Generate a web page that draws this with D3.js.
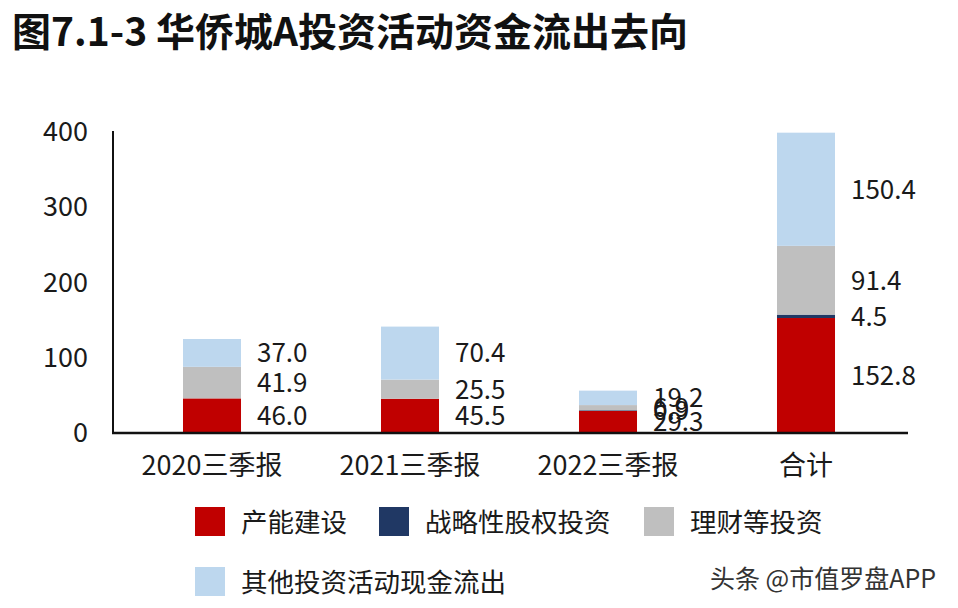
<!DOCTYPE html>
<html><head><meta charset="utf-8">
<script src="https://cdn.jsdelivr.net/npm/d3@7/dist/d3.min.js"></script>
<style>body{margin:0;background:#fff;}svg{display:block;}</style>
</head><body>
<svg id="c" width="958" height="608"></svg>
<script>
const categories = ["2020三季报", "2021三季报", "2022三季报", "合计"];
const seriesNames = ["产能建设", "战略性股权投资", "理财等投资", "其他投资活动现金流出"];
const capacity = [46.0, 45.5, 29.3, 152.8];
const equity = [0, 0, 0.9, 4.5];
const wealth = [41.9, 25.5, 6.9, 91.4];
const other = [37.0, 70.4, 19.2, 150.4];
const yTicks = [0, 100, 200, 300, 400];
const colors = ["#C00000", "#203864", "#BFBFBF", "#BDD7EE"];
const title = "图7.1-3 华侨城A投资活动资金流出去向";
const watermark = "头条 @市值罗盘APP";

const font = "'Noto Sans CJK SC', 'Noto Sans', sans-serif";
const svg = d3.select("#c");
const series = [capacity, equity, wealth, other];
const rows = categories.map((c, i) => {
  const o = {cat: c};
  seriesNames.forEach((s, j) => o[s] = series[j][i]);
  return o;
});
const stacked = d3.stack().keys(seriesNames)(rows);

const x = d3.scaleBand().domain(categories).range([113, 905]).paddingInner(0.707).paddingOuter(0.3535);
const y = d3.scaleLinear().domain([0, 400]).range([433, 132]);

svg.append("text").attr("x", 12).attr("y", 46).text(title)
  .attr("font-family", font).attr("font-weight", "bold").attr("font-size", 39).attr("fill", "#111");

// bars
stacked.forEach((layer, j) => {
  svg.append("g").selectAll("rect").data(layer).join("rect")
    .attr("x", d => x(d.data.cat)).attr("width", x.bandwidth())
    .attr("y", d => y(d[1])).attr("height", d => y(d[0]) - y(d[1]))
    .attr("fill", colors[j]);
});
// value labels
stacked.forEach((layer, j) => {
  svg.append("g").selectAll("text").data(layer.filter(d => d[1] - d[0] > 0)).join("text")
    .attr("x", d => x(d.data.cat) + x.bandwidth() + 16)
    .attr("y", d => y((d[0] + d[1]) / 2))
    .attr("dy", "0.36em")
    .text(d => (d[1] - d[0]).toFixed(1))
    .attr("font-family", font).attr("font-size", 26).attr("fill", "#1a1a1a");
});

// axes
const yAxis = d3.axisLeft(y).tickValues(yTicks).tickSize(0).tickPadding(25);
const gy = svg.append("g").attr("transform", "translate(113,0)").call(yAxis);
gy.select(".domain").attr("stroke", "#111").attr("stroke-width", 2).attr("d", "M0,131V434");
gy.selectAll("text").attr("font-family", font).attr("font-size", 27).attr("fill", "#1a1a1a");

const xAxis = d3.axisBottom(x).tickSize(0).tickPadding(23);
const gx = svg.append("g").attr("transform", "translate(0,433)").call(xAxis);
gx.select(".domain").attr("stroke", "#111").attr("stroke-width", 2.5).attr("d", "M112,0H908");
gx.selectAll("text").attr("font-family", font).attr("font-size", 27).attr("fill", "#1a1a1a");

// legend
const legendPos = [[195, 507], [379, 507], [644, 507], [195, 567]];
seriesNames.forEach((s, j) => {
  const [lx, ly] = legendPos[j];
  svg.append("rect").attr("x", lx).attr("y", ly).attr("width", 30).attr("height", 29).attr("fill", colors[j]);
  svg.append("text").attr("x", lx + 46).attr("y", ly + 15).attr("dy", "0.36em").text(s)
    .attr("font-family", font).attr("font-size", 26.5).attr("fill", "#1a1a1a");
});

svg.append("text").attr("x", 710).attr("y", 588).text(watermark)
  .attr("font-family", font).attr("font-size", 25).attr("fill", "#333")
  .attr("style", "text-shadow:1px 1px 1px #fff");
</script>
</body></html>
